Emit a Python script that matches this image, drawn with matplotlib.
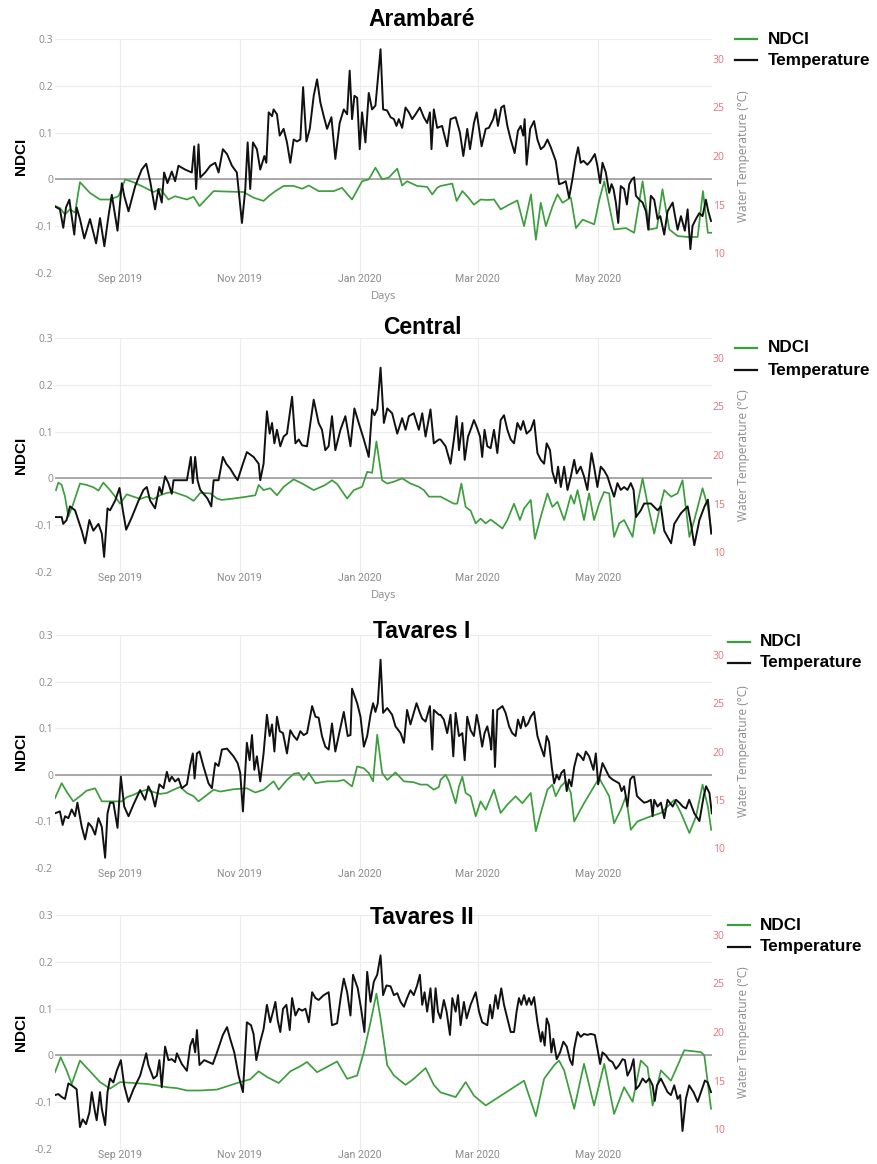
import matplotlib
matplotlib.use("Agg")
import matplotlib.pyplot as plt
import matplotlib.dates as mdates
from matplotlib.lines import Line2D
import pandas as pd

# ---------------------------------------------------------------- data
# Each series is a list of (days since 2019-07-30, value) pairs.
start_date = pd.Timestamp("2019-07-30")

sites = ["Arambaré", "Central", "Tavares I", "Tavares II"]

arambare_temp = [
    (0, 14.8), (2.5, 14.5), (4.2, 12.6), (5.6, 14.7), (7.3, 15.5), (8.5, 13.8), (9.8, 11.9), (11.0, 14.7),
    (12.7, 13.5), (14.9, 11.5), (17.8, 13.5), (20.9, 11.0), (22.9, 13.6), (25.1, 10.7), (27.2, 13.8), (28.9, 16.0),
    (31.8, 12.3), (34.0, 17.2), (35.2, 15.9), (37.4, 14.3), (40.8, 16.9), (44.1, 18.6), (46.4, 19.2), (48.4, 17.4),
    (50.9, 14.5), (52.6, 16.6), (54.3, 15.2), (55.5, 18.3), (57.2, 17.2), (59.4, 18.4), (61.1, 17.4), (62.8, 19.0),
    (66.2, 18.6), (69.6, 18.3), (70.8, 21.0), (71.8, 16.6), (73.0, 21.2), (73.9, 17.8), (76.4, 18.3), (79.0, 19.0),
    (81.5, 19.3), (83.2, 18.3), (85.4, 20.7), (87.5, 20.2), (90.0, 19.0), (92.5, 18.3), (95.1, 13.1), (96.8, 16.6),
    (98.0, 21.4), (99.3, 16.6), (100.7, 21.4), (102.7, 20.7), (104.4, 18.6), (106.5, 20.0), (107.5, 19.3),
    (108.7, 24.5), (110.4, 24.1), (111.2, 24.8), (112.9, 24.3), (114.3, 22.1), (116.3, 22.8), (118.0, 21.4),
    (119.7, 19.3), (121.4, 21.7), (123.1, 21.5), (124.8, 21.7), (126.2, 27.1), (127.9, 21.5), (129.6, 22.8),
    (131.6, 26.2), (133.3, 27.9), (135.0, 25.5), (136.7, 24.1), (138.4, 22.8), (140.6, 24.0), (142.6, 19.7),
    (144.8, 23.4), (146.9, 24.8), (148.6, 24.3), (149.9, 28.8), (151.1, 23.8), (152.3, 26.2), (153.7, 26.0),
    (155.0, 20.7), (156.2, 24.5), (157.9, 21.4), (159.6, 26.5), (161.3, 24.8), (163.0, 25.2), (165.6, 31.0),
    (166.9, 24.8), (168.9, 24.7), (170.7, 24.0), (172.4, 23.8), (173.7, 23.1), (174.9, 23.8), (176.6, 22.9),
    (178.3, 25.0), (180.0, 24.5), (181.7, 23.8), (183.4, 24.3), (185.6, 25.0), (187.6, 24.0), (189.3, 23.4),
    (190.7, 24.5), (191.5, 20.7), (192.7, 24.8), (194.4, 22.9), (196.9, 23.1), (199.5, 21.0), (201.2, 23.8),
    (203.8, 24.0), (206.0, 22.4), (207.7, 20.0), (209.7, 22.8), (211.1, 20.7), (213.1, 23.4), (214.5, 24.5),
    (215.7, 22.8), (217.0, 21.0), (219.1, 22.8), (220.7, 22.9), (222.9, 23.8), (224.1, 24.8), (225.3, 23.1),
    (227.0, 25.0), (228.4, 25.2), (230.1, 23.1), (231.8, 21.7), (233.8, 20.3), (235.5, 22.6), (236.9, 23.1),
    (238.2, 22.1), (238.9, 23.8), (239.9, 19.1), (241.7, 22.8), (243.7, 23.6), (245.4, 21.7), (247.1, 20.7),
    (248.8, 21.0), (250.5, 21.7), (252.2, 20.9), (254.7, 19.5), (256.4, 17.1), (258.1, 17.2), (259.8, 17.4),
    (261.5, 15.7), (263.2, 17.6), (264.9, 19.8), (266.1, 20.9), (267.4, 19.3), (268.8, 19.5), (270.8, 19.1),
    (272.5, 19.5), (274.6, 20.2), (275.9, 19.0), (277.3, 17.2), (278.5, 19.3), (280.2, 18.3), (281.9, 16.2),
    (283.1, 17.1), (284.1, 16.6), (285.3, 15.2), (286.5, 13.1), (287.8, 16.9), (289.5, 16.6), (290.9, 15.0),
    (292.1, 17.1), (293.5, 17.6), (294.6, 17.8), (295.5, 15.9), (297.2, 15.5), (298.9, 15.2), (300.6, 14.3),
    (301.8, 12.4), (303.1, 15.9), (304.8, 15.5), (306.5, 13.5), (307.9, 13.8), (309.9, 11.9), (311.6, 14.3),
    (314.2, 15.2), (315.4, 13.8), (316.7, 12.4), (318.4, 13.8), (320.4, 12.3), (321.8, 14.5), (323.2, 10.4),
    (324.3, 12.8), (326.0, 13.5), (327.7, 14.1), (329.4, 13.8), (331.1, 15.5), (332.3, 14.3), (333.7, 13.3),
]
arambare_ndci = [
    (0, -0.057), (2.5, -0.061), (5.1, -0.075), (7.6, -0.064), (10.2, -0.071), (12.7, -0.006), (17.8, -0.029),
    (22.9, -0.043), (28.0, -0.043), (32.3, -0.036), (35.7, 0.0), (39.9, -0.006), (45.0, -0.016), (50.1, -0.027),
    (53.5, -0.020), (57.7, -0.043), (61.1, -0.036), (67.1, -0.043), (70.5, -0.037), (73.5, -0.057), (80.7, -0.025),
    (87.5, -0.026), (95.9, -0.027), (101.0, -0.039), (106.1, -0.046), (108.7, -0.036), (112.1, -0.025),
    (116.3, -0.014), (121.4, -0.014), (125.7, -0.020), (129.1, -0.013), (134.1, -0.025), (141.8, -0.025),
    (146.0, -0.018), (151.1, -0.043), (156.2, -0.004), (159.6, 0.0), (163.0, 0.025), (166.4, 0.0), (169.8, 0.004),
    (174.1, 0.023), (176.6, -0.013), (179.1, -0.004), (184.2, -0.014), (189.3, -0.016), (191.9, -0.032),
    (194.4, -0.018), (196.1, -0.014), (202.1, -0.009), (204.3, -0.046), (207.2, -0.025), (209.7, -0.036),
    (213.1, -0.054), (216.5, -0.043), (219.9, -0.044), (223.3, -0.043), (226.7, -0.064), (231.0, -0.054),
    (235.2, -0.045), (238.6, -0.100), (242.1, -0.032), (244.6, -0.129), (247.1, -0.050), (249.7, -0.100),
    (253.1, -0.057), (255.6, -0.032), (258.2, -0.050), (260.7, -0.043), (262.4, -0.039), (265.0, -0.104),
    (268.4, -0.086), (274.3, -0.096), (276.9, -0.043), (279.4, -0.004), (284.4, -0.107), (290.4, -0.104),
    (294.6, -0.114), (298.9, -0.004), (302.3, -0.107), (306.2, -0.104), (309.0, -0.021), (312.5, -0.107),
    (316.7, -0.121), (321.8, -0.123), (326.9, -0.123), (329.6, -0.025), (332.1, -0.114), (334.2, -0.114),
]

central_temp = [
    (0, 13.6), (3.4, 13.6), (4.2, 12.9), (5.9, 13.3), (7.6, 14.7), (10.2, 14.3), (13.6, 12.2), (15.3, 10.9),
    (17.5, 13.3), (19.5, 12.2), (22.1, 12.9), (23.8, 11.9), (25.0, 9.5), (26.7, 14.5), (28.0, 14.3), (30.6, 15.3),
    (32.8, 16.6), (34.5, 14.3), (36.2, 12.3), (39.1, 13.6), (42.5, 15.3), (45.0, 16.4), (46.7, 16.7), (48.4, 15.3),
    (50.9, 14.5), (53.1, 16.7), (54.3, 16.0), (56.0, 17.8), (57.7, 17.1), (59.4, 16.0), (60.3, 17.4), (63.7, 17.4),
    (67.1, 17.4), (69.1, 19.8), (70.1, 17.1), (71.3, 19.8), (72.5, 17.4), (73.9, 16.4), (75.6, 16.0), (77.6, 15.5),
    (79.5, 14.7), (80.7, 17.4), (83.2, 17.4), (85.4, 19.8), (87.1, 19.1), (89.1, 18.6), (91.2, 17.9), (92.9, 17.4),
    (95.1, 18.8), (97.6, 20.3), (101.0, 19.8), (103.6, 19.1), (104.4, 17.4), (106.1, 19.1), (107.8, 24.5),
    (109.2, 22.2), (110.4, 23.3), (111.6, 21.2), (112.9, 22.6), (114.6, 20.9), (116.3, 21.9), (118.0, 22.2),
    (120.6, 26.0), (122.3, 21.2), (124.0, 21.6), (125.7, 21.0), (128.2, 20.9), (131.6, 25.7), (134.1, 23.3),
    (135.8, 22.6), (137.5, 20.5), (139.2, 20.9), (140.9, 24.0), (142.6, 20.5), (145.2, 22.6), (147.7, 24.0),
    (150.3, 20.9), (152.3, 24.8), (154.5, 23.3), (157.1, 21.6), (159.6, 19.8), (161.3, 24.7), (162.5, 24.1),
    (163.9, 24.7), (165.6, 29.0), (167.3, 23.3), (169.0, 24.8), (171.5, 24.3), (174.1, 22.2), (176.6, 23.8),
    (178.3, 22.6), (180.0, 24.0), (182.5, 24.3), (185.1, 22.6), (186.8, 24.3), (188.5, 21.9), (191.0, 24.7),
    (192.7, 21.2), (195.3, 21.6), (196.1, 21.6), (198.7, 20.9), (201.2, 19.1), (202.9, 21.6), (204.3, 24.0),
    (205.5, 20.5), (207.2, 23.3), (208.4, 19.5), (210.1, 21.9), (211.4, 22.6), (213.1, 23.6), (214.5, 22.9),
    (216.2, 21.9), (217.3, 19.8), (218.5, 22.6), (219.9, 20.9), (221.6, 20.7), (223.3, 22.6), (225.0, 20.2),
    (226.7, 23.6), (228.4, 24.1), (230.1, 22.6), (231.8, 21.6), (233.5, 21.2), (235.2, 23.3), (236.9, 22.6),
    (238.2, 23.5), (239.9, 22.2), (242.0, 22.6), (243.7, 23.6), (245.4, 20.2), (247.1, 19.5), (248.8, 19.1),
    (250.1, 21.2), (251.8, 20.5), (253.0, 18.3), (254.7, 17.1), (255.9, 18.8), (257.3, 16.7), (259.0, 18.8),
    (260.7, 16.4), (262.4, 17.8), (264.1, 19.5), (265.4, 18.1), (267.4, 18.8), (269.1, 17.8), (270.8, 16.4),
    (272.9, 20.2), (274.2, 18.8), (275.9, 16.7), (277.6, 18.8), (279.3, 18.4), (281.0, 17.8), (282.7, 16.7),
    (284.4, 15.7), (286.1, 17.1), (287.8, 16.4), (289.5, 16.7), (291.2, 16.4), (292.9, 17.1), (294.3, 16.4),
    (295.5, 13.6), (298.0, 14.3), (299.7, 15.0), (303.1, 15.0), (306.5, 14.3), (308.2, 14.7), (309.9, 12.2),
    (313.4, 10.9), (315.0, 12.9), (318.4, 14.0), (321.8, 14.7), (323.5, 12.9), (325.2, 10.7), (327.8, 13.3),
    (330.4, 14.7), (332.1, 15.4), (333.8, 11.9),
]
central_ndci = [
    (0.5, -0.025), (1.7, -0.009), (3.4, -0.014), (5.1, -0.039), (6.8, -0.082), (9.3, -0.054), (12.7, -0.011),
    (16.1, -0.014), (19.5, -0.019), (22.1, -0.026), (24.6, -0.009), (28.0, -0.025), (30.6, -0.039), (33.1, -0.054),
    (36.5, -0.034), (39.9, -0.039), (43.3, -0.044), (46.7, -0.039), (50.1, -0.044), (53.5, -0.036), (56.9, -0.031),
    (60.3, -0.029), (67.1, -0.039), (70.5, -0.048), (73.9, -0.031), (79.0, -0.032), (82.4, -0.043), (84.9, -0.046),
    (90.8, -0.043), (97.6, -0.039), (101.9, -0.036), (103.6, -0.014), (106.1, -0.025), (109.5, -0.021),
    (112.9, -0.036), (116.3, -0.018), (121.4, -0.002), (125.7, -0.011), (131.6, -0.025), (137.5, -0.014),
    (140.9, -0.004), (143.5, -0.012), (148.6, -0.043), (152.0, -0.025), (156.2, -0.018), (158.8, 0.014),
    (161.3, 0.012), (163.5, 0.079), (166.4, -0.004), (169.0, -0.011), (172.4, -0.007), (176.6, 0.0),
    (180.8, -0.011), (185.1, -0.018), (187.6, -0.025), (190.2, -0.039), (194.4, -0.039), (196.1, -0.039),
    (202.9, -0.054), (204.6, -0.054), (206.7, -0.011), (208.9, -0.061), (211.4, -0.069), (214.0, -0.096),
    (216.5, -0.086), (219.1, -0.096), (221.6, -0.088), (224.2, -0.096), (227.6, -0.107), (230.1, -0.089),
    (233.5, -0.054), (236.5, -0.089), (238.6, -0.064), (242.0, -0.046), (244.1, -0.129), (247.1, -0.082),
    (250.5, -0.032), (253.0, -0.061), (255.6, -0.050), (259.0, -0.089), (262.4, -0.036), (264.1, -0.054),
    (265.8, -0.025), (269.1, -0.089), (271.7, -0.032), (274.2, -0.089), (276.8, -0.054), (279.3, -0.029),
    (281.9, -0.032), (284.4, -0.125), (287.0, -0.096), (289.5, -0.089), (293.8, -0.125), (296.3, -0.054),
    (298.9, 0.0), (301.4, -0.054), (304.8, -0.118), (307.4, -0.068), (309.9, -0.025), (313.4, -0.039),
    (316.7, -0.032), (319.2, -0.004), (322.7, -0.125), (325.2, -0.089), (329.4, -0.021), (332.1, -0.061),
    (333.8, -0.111),
]

tavares1_temp = [
    (0, 13.6), (2.5, 13.8), (3.9, 12.4), (5.1, 13.3), (6.8, 13.1), (8.5, 14.0), (10.2, 13.3), (11.4, 14.7),
    (13.6, 12.2), (15.3, 10.9), (17.0, 12.6), (18.7, 12.2), (20.4, 11.4), (22.1, 13.1), (23.8, 12.2), (25.5, 9.0),
    (26.7, 13.6), (28.0, 14.7), (29.7, 14.7), (31.8, 12.1), (33.5, 17.4), (35.2, 14.3), (37.4, 13.3), (39.9, 14.5),
    (43.3, 16.0), (45.8, 15.0), (47.5, 16.4), (49.2, 15.7), (50.9, 14.3), (53.1, 16.6), (55.2, 16.2), (56.9, 17.9),
    (58.2, 16.9), (59.4, 17.4), (61.1, 16.9), (62.8, 17.2), (64.5, 16.2), (67.1, 16.6), (68.8, 18.6), (70.1, 19.8),
    (71.0, 17.2), (72.2, 19.8), (73.5, 20.0), (75.6, 18.4), (78.1, 16.7), (79.8, 16.2), (81.5, 18.8), (83.2, 18.5),
    (84.9, 20.2), (87.5, 20.3), (90.8, 19.5), (92.9, 18.8), (94.2, 17.8), (95.6, 13.8), (97.6, 20.9), (99.0, 19.1),
    (100.2, 21.7), (101.4, 18.1), (102.7, 19.5), (104.4, 16.9), (106.1, 19.8), (107.8, 23.8), (109.2, 21.6),
    (110.4, 22.8), (111.6, 20.0), (112.9, 23.6), (114.3, 22.1), (116.0, 21.9), (118.0, 19.8), (119.7, 22.2),
    (121.4, 21.6), (123.1, 21.2), (124.8, 22.1), (126.5, 21.7), (128.2, 21.9), (130.8, 24.7), (132.5, 23.6),
    (134.1, 23.5), (135.8, 21.6), (137.5, 20.5), (139.2, 20.2), (140.9, 22.9), (142.6, 20.0), (144.3, 21.6),
    (146.9, 24.1), (148.9, 21.6), (150.3, 21.7), (151.1, 26.5), (153.7, 25.0), (155.4, 23.6), (157.1, 20.5),
    (158.8, 21.6), (160.5, 23.8), (161.8, 25.0), (163.0, 24.1), (164.2, 25.0), (165.6, 29.5), (166.9, 24.0),
    (169.0, 24.5), (171.5, 23.8), (173.2, 22.6), (175.8, 21.9), (177.5, 20.9), (179.1, 24.3), (180.8, 22.8),
    (182.2, 23.8), (183.9, 25.0), (185.6, 24.0), (186.8, 23.4), (188.5, 23.1), (190.7, 24.7), (191.9, 20.2),
    (192.7, 24.3), (195.3, 23.8), (196.1, 23.8), (197.8, 23.3), (199.5, 21.9), (201.2, 23.8), (202.6, 19.5),
    (203.8, 24.0), (205.5, 21.6), (207.2, 21.9), (208.4, 19.1), (209.7, 23.6), (211.4, 22.2), (213.1, 21.6),
    (214.5, 23.8), (215.7, 22.6), (217.3, 20.5), (218.5, 21.9), (219.9, 22.6), (221.3, 21.2), (221.9, 20.2),
    (222.8, 24.3), (223.8, 18.4), (225.0, 24.3), (226.4, 24.5), (227.6, 24.7), (229.2, 24.0), (231.0, 22.6),
    (232.6, 21.9), (234.3, 21.6), (235.5, 23.3), (236.9, 22.4), (238.2, 23.6), (239.4, 22.6), (240.6, 22.9),
    (242.0, 23.6), (243.7, 24.1), (245.4, 21.6), (247.1, 20.5), (248.8, 19.5), (250.1, 21.6), (251.3, 21.0),
    (252.7, 18.4), (253.9, 16.7), (255.2, 17.6), (256.4, 17.1), (257.6, 17.8), (259.0, 18.1), (260.3, 15.9),
    (261.5, 17.1), (262.7, 16.4), (264.1, 18.4), (265.8, 19.8), (267.4, 19.5), (268.8, 19.1), (270.0, 20.0),
    (271.7, 19.5), (273.9, 18.1), (275.1, 19.8), (276.3, 16.6), (278.5, 18.8), (280.2, 18.1), (281.9, 17.4),
    (283.6, 17.1), (285.3, 16.9), (287.0, 16.7), (288.2, 15.9), (289.5, 16.4), (291.2, 14.3), (292.6, 17.1),
    (293.8, 17.4), (294.6, 17.4), (296.0, 15.4), (298.0, 15.0), (299.7, 14.7), (301.4, 14.8), (303.1, 15.0),
    (304.0, 13.3), (304.8, 15.0), (306.5, 14.3), (308.2, 14.7), (309.9, 13.1), (311.6, 15.0), (314.2, 14.3),
    (315.9, 15.0), (317.6, 14.7), (319.3, 14.3), (321.0, 14.1), (322.6, 15.0), (325.2, 13.6), (327.8, 12.8),
    (330.0, 15.4), (331.2, 16.4), (332.9, 15.7), (334.1, 13.6),
]
tavares1_ndci = [
    (0, -0.050), (3.4, -0.018), (5.9, -0.036), (9.3, -0.057), (12.7, -0.046), (16.1, -0.034), (20.4, -0.029),
    (23.8, -0.057), (29.7, -0.057), (34.0, -0.057), (36.5, -0.048), (39.9, -0.043), (43.3, -0.036), (46.7, -0.032),
    (50.1, -0.037), (53.5, -0.041), (56.9, -0.039), (60.3, -0.032), (63.7, -0.026), (67.1, -0.039), (70.5, -0.046),
    (73.0, -0.057), (76.4, -0.046), (80.7, -0.032), (84.1, -0.036), (90.8, -0.031), (97.6, -0.029),
    (101.9, -0.038), (106.1, -0.032), (111.2, -0.014), (113.8, -0.032), (118.0, -0.011), (121.4, 0.002),
    (124.0, 0.004), (126.5, -0.011), (129.1, 0.004), (132.5, -0.018), (138.4, -0.014), (143.5, -0.014),
    (146.9, -0.011), (151.1, -0.025), (153.7, 0.018), (157.1, 0.014), (159.6, 0.004), (161.8, -0.014),
    (163.9, 0.086), (166.4, 0.004), (169.0, -0.011), (173.2, 0.005), (177.5, -0.014), (182.5, -0.016),
    (185.9, -0.021), (189.3, -0.021), (192.7, -0.032), (195.3, -0.026), (196.1, -0.011), (198.7, 0.0),
    (200.4, -0.014), (203.8, -0.061), (205.5, -0.025), (207.2, -0.004), (208.9, -0.039), (211.4, -0.046),
    (214.0, -0.089), (216.5, -0.057), (219.1, -0.075), (223.3, -0.032), (226.7, -0.082), (230.1, -0.064),
    (234.3, -0.046), (237.7, -0.061), (242.0, -0.039), (244.6, -0.121), (247.1, -0.082), (250.5, -0.032),
    (253.0, -0.021), (254.7, -0.046), (257.3, -0.025), (259.8, -0.014), (262.4, -0.039), (264.1, -0.100),
    (269.1, -0.061), (274.2, -0.025), (276.8, -0.007), (281.9, -0.046), (284.4, -0.104), (287.8, -0.075),
    (290.4, -0.046), (292.9, -0.118), (296.3, -0.100), (303.1, -0.089), (308.2, -0.082), (311.6, -0.068),
    (315.0, -0.054), (318.4, -0.082), (322.7, -0.125), (326.1, -0.089), (329.4, -0.021), (332.1, -0.068),
    (333.8, -0.118),
]

tavares2_temp = [
    (0, 13.5), (1.7, 13.6), (3.4, 13.3), (5.1, 13.1), (6.8, 14.7), (8.5, 14.5), (11.0, 14.1), (12.7, 10.2),
    (14.1, 11.0), (15.8, 10.5), (17.5, 11.7), (18.7, 13.8), (20.4, 11.7), (21.2, 10.9), (22.9, 13.8), (23.8, 12.1),
    (25.5, 10.4), (26.7, 13.8), (28.0, 15.2), (29.7, 14.8), (31.4, 16.0), (33.5, 17.1), (35.2, 14.5), (37.4, 12.8),
    (39.9, 14.1), (43.3, 15.5), (46.4, 17.8), (47.5, 16.6), (50.1, 15.2), (51.8, 15.5), (53.1, 17.1), (54.3, 14.3),
    (56.0, 18.5), (57.7, 17.1), (59.4, 17.2), (61.1, 16.9), (62.0, 17.8), (64.5, 16.7), (67.1, 16.0), (68.8, 18.6),
    (70.1, 19.3), (71.3, 17.9), (72.2, 20.2), (73.5, 16.6), (75.9, 17.1), (78.1, 16.9), (80.3, 16.7), (82.4, 17.9),
    (85.4, 19.7), (87.5, 20.5), (89.1, 19.3), (91.2, 17.9), (93.4, 15.5), (95.6, 13.8), (97.6, 21.0), (99.7, 20.7),
    (101.0, 19.8), (102.4, 17.1), (104.4, 19.0), (106.1, 20.3), (107.8, 22.8), (109.5, 21.0), (110.9, 22.1),
    (112.1, 23.1), (113.3, 21.2), (114.6, 20.0), (116.0, 22.4), (117.7, 22.8), (119.4, 20.2), (120.6, 23.5),
    (122.3, 21.7), (124.0, 22.4), (125.7, 22.2), (127.4, 22.4), (129.1, 21.0), (130.8, 24.1), (132.5, 23.5),
    (134.1, 23.3), (136.7, 23.8), (139.2, 24.1), (140.9, 20.7), (143.5, 20.9), (145.5, 23.8), (146.9, 25.5),
    (148.6, 24.1), (150.3, 21.7), (151.6, 25.9), (154.0, 24.5), (155.7, 22.4), (157.4, 20.0), (158.8, 26.2),
    (160.5, 23.1), (162.2, 25.2), (163.9, 25.9), (165.6, 27.9), (166.9, 23.8), (168.6, 24.8), (170.7, 24.7),
    (172.4, 23.8), (174.1, 24.0), (175.8, 23.1), (177.5, 22.6), (179.1, 23.5), (180.8, 24.3), (182.5, 23.8),
    (184.2, 24.8), (185.6, 25.9), (186.8, 22.8), (188.0, 24.1), (189.3, 22.1), (191.0, 24.5), (192.4, 21.0),
    (193.6, 24.5), (194.8, 22.1), (196.1, 21.4), (197.8, 23.3), (199.2, 22.1), (200.9, 19.7), (202.1, 23.5),
    (203.8, 22.1), (205.0, 23.8), (206.3, 20.7), (208.0, 23.1), (209.4, 21.4), (211.4, 22.8), (212.8, 23.5),
    (214.0, 24.1), (215.7, 22.1), (217.3, 21.0), (219.9, 20.7), (221.3, 22.8), (222.4, 21.4), (224.1, 23.8),
    (225.3, 22.4), (227.0, 24.5), (228.4, 22.8), (230.1, 21.4), (231.8, 20.0), (233.5, 20.0), (234.8, 22.1),
    (236.0, 23.5), (237.2, 22.8), (238.6, 23.8), (239.9, 22.8), (241.1, 23.5), (242.3, 22.8), (243.7, 23.6),
    (245.4, 21.0), (247.1, 19.0), (247.9, 20.0), (249.1, 18.6), (250.1, 21.4), (251.3, 20.7), (252.5, 17.9),
    (253.5, 19.3), (255.2, 17.2), (256.9, 17.9), (258.6, 19.0), (260.3, 18.5), (262.0, 17.1), (263.2, 16.6),
    (264.1, 18.3), (265.8, 20.0), (267.4, 19.5), (269.1, 19.8), (270.8, 19.7), (272.5, 19.8), (274.6, 19.7),
    (275.9, 18.3), (277.3, 16.7), (278.5, 17.9), (280.2, 17.6), (281.9, 17.1), (283.6, 16.9), (285.3, 16.2),
    (287.0, 16.6), (288.7, 17.2), (289.9, 17.1), (291.2, 15.5), (292.9, 16.2), (294.3, 17.2), (295.5, 14.1),
    (297.2, 14.5), (298.9, 15.2), (300.6, 14.8), (302.3, 15.2), (304.0, 14.5), (305.1, 12.9), (306.2, 14.5),
    (308.2, 15.2), (309.9, 14.5), (311.6, 13.8), (313.3, 13.5), (315.0, 14.5), (316.7, 13.1), (318.0, 13.5),
    (319.2, 9.8), (320.9, 13.1), (322.6, 14.5), (324.8, 13.8), (326.9, 12.8), (328.6, 13.8), (330.6, 15.0),
    (332.0, 14.8), (333.7, 13.8),
]
tavares2_ndci = [
    (0, -0.036), (2.9, -0.004), (5.9, -0.032), (8.5, -0.061), (12.7, -0.011), (17.8, -0.034), (22.9, -0.057),
    (28.0, -0.071), (33.1, -0.057), (39.9, -0.059), (46.7, -0.061), (51.8, -0.064), (56.9, -0.068), (62.0, -0.070),
    (67.1, -0.075), (73.9, -0.075), (82.4, -0.073), (87.5, -0.066), (94.2, -0.057), (99.3, -0.051),
    (103.6, -0.034), (107.8, -0.046), (113.8, -0.059), (119.7, -0.034), (124.8, -0.023), (128.2, -0.014),
    (133.3, -0.036), (143.5, -0.013), (148.6, -0.050), (153.7, -0.043), (157.1, 0.007), (160.5, 0.071),
    (163.5, 0.132), (165.6, 0.079), (169.0, -0.021), (172.4, -0.043), (178.3, -0.063), (182.5, -0.050),
    (188.5, -0.027), (192.7, -0.063), (196.1, -0.079), (203.8, -0.089), (208.9, -0.057), (213.1, -0.086),
    (219.1, -0.107), (238.6, -0.054), (244.6, -0.130), (248.8, -0.050), (253.9, -0.021), (256.4, -0.011),
    (259.0, -0.032), (264.1, -0.114), (269.1, -0.018), (274.2, -0.107), (279.4, -0.018), (284.4, -0.125),
    (289.5, -0.068), (293.8, -0.099), (298.0, -0.011), (301.4, -0.025), (304.0, -0.107), (308.2, -0.032),
    (313.3, -0.054), (320.1, 0.011), (328.6, 0.007), (330.3, 0.0), (333.7, -0.114),
]

temp_series = [arambare_temp, central_temp, tavares1_temp, tavares2_temp]
ndci_series = [arambare_ndci, central_ndci, tavares1_ndci, tavares2_ndci]

x_tick_dates = ["2019-09-01", "2019-11-01", "2020-01-01", "2020-03-01", "2020-05-01"]
ndci_ticks = [-0.2, -0.1, 0, 0.1, 0.2, 0.3]
temp_ticks = [10, 15, 20, 25, 30]

# ---------------------------------------------------------------- layout (pixels)
W, H, DPI = 877, 1164, 100
PLOT_LEFT, PLOT_RIGHT = 55, 712
panel_rows = [(39, 273), (338, 572), (635, 868), (915, 1149)]
title_y = [20, 328, 631, 917]
title_x = 422
legend_rows = [(39, 60, 735, 768), (348, 370, 735, 768), (642, 663, 728, 760), (925, 947, 728, 760)]
show_days = [True, True, False, False]
x_span_days = 334.2
temp_range = (7.94, 32.06)
ndci_range = (-0.2, 0.3)

GREEN = "#3d9e3d"
BLACK = "#111111"
GRID = "#ececec"
ZERO = "#9b9b9b"
TICK_GRAY = "#8a8a8a"
TEMP_TICK = "#e8707a"
BOLD_FONT = "Liberation Sans"
TICK_FONT = "Open Sans"
DATE_FONT = "Roboto"


def fx(x):
    return x / W


def fy(y):
    return 1 - y / H


def to_dates(pairs):
    days, vals = zip(*pairs)
    return start_date + pd.to_timedelta(list(days), unit="D"), list(vals)


fig = plt.figure(figsize=(W / DPI, H / DPI), dpi=DPI, facecolor="white")

for i, site in enumerate(sites):
    top, bottom = panel_rows[i]
    ax = fig.add_axes([fx(PLOT_LEFT), fy(bottom), (PLOT_RIGHT - PLOT_LEFT) / W, (bottom - top) / H])
    ax2 = ax.twinx()

    nd_dates, nd_vals = to_dates(ndci_series[i])
    t_dates, t_vals = to_dates(temp_series[i])

    ax.plot(nd_dates, nd_vals, color=GREEN, lw=1.25, zorder=3, solid_joinstyle="round")
    ax2.plot(t_dates, t_vals, color=BLACK, lw=1.4, zorder=3, solid_joinstyle="round")

    ax.axhline(0, color=ZERO, lw=1.2, zorder=2)

    ax.set_xlim(start_date, start_date + pd.Timedelta(days=x_span_days))
    ax.set_ylim(*ndci_range)
    ax2.set_ylim(*temp_range)

    ax.set_xticks(pd.to_datetime(x_tick_dates))
    ax.xaxis.set_major_formatter(mdates.DateFormatter("%b %Y"))
    ax.set_yticks(ndci_ticks)
    ax.set_yticklabels(["%g" % v if v != 0 else "0" for v in ndci_ticks])
    ax2.set_yticks(temp_ticks)

    ax.grid(True, color=GRID, lw=0.8)
    ax.set_axisbelow(True)

    for a in (ax, ax2):
        for s in a.spines.values():
            s.set_visible(False)

    ax.tick_params(axis="x", length=0, pad=0.5, labelsize=7.6, labelcolor=TICK_GRAY)
    ax.tick_params(axis="y", length=0, pad=1.5, labelsize=7.5, labelcolor=TICK_GRAY)
    ax2.tick_params(axis="y", length=0, pad=0.5, labelsize=7.5, labelcolor=TEMP_TICK)
    for lab in ax.get_xticklabels():
        lab.set_family(DATE_FONT)
    for lab in ax.get_yticklabels() + ax2.get_yticklabels():
        lab.set_family(TICK_FONT)

    ax.set_ylabel("NDCI", family=BOLD_FONT, fontweight="bold", fontsize=11, labelpad=5)
    ax2.set_ylabel("Water Temperature (°C)", family=TICK_FONT, fontsize=8.6, color=TICK_GRAY, labelpad=9)
    if show_days[i]:
        ax.set_xlabel("Days", family=TICK_FONT, fontsize=8, color=TICK_GRAY, labelpad=5)

    fig.text(fx(title_x), fy(title_y[i]), site, ha="center", va="center",
             family=BOLD_FONT, fontweight="bold", fontsize=16.5)

    # legend entries
    y1, y2, lx, tx = legend_rows[i]
    for yy, color, label in ((y1, GREEN, "NDCI"), (y2, BLACK, "Temperature")):
        fig.add_artist(Line2D([fx(lx), fx(lx + 22)], [fy(yy), fy(yy)], color=color, lw=1.6,
                              transform=fig.transFigure))
        fig.text(fx(tx), fy(yy), label, ha="left", va="center",
                 family=BOLD_FONT, fontweight="bold", fontsize=12.3)

fig.savefig("out.png", dpi=DPI, facecolor="white")
